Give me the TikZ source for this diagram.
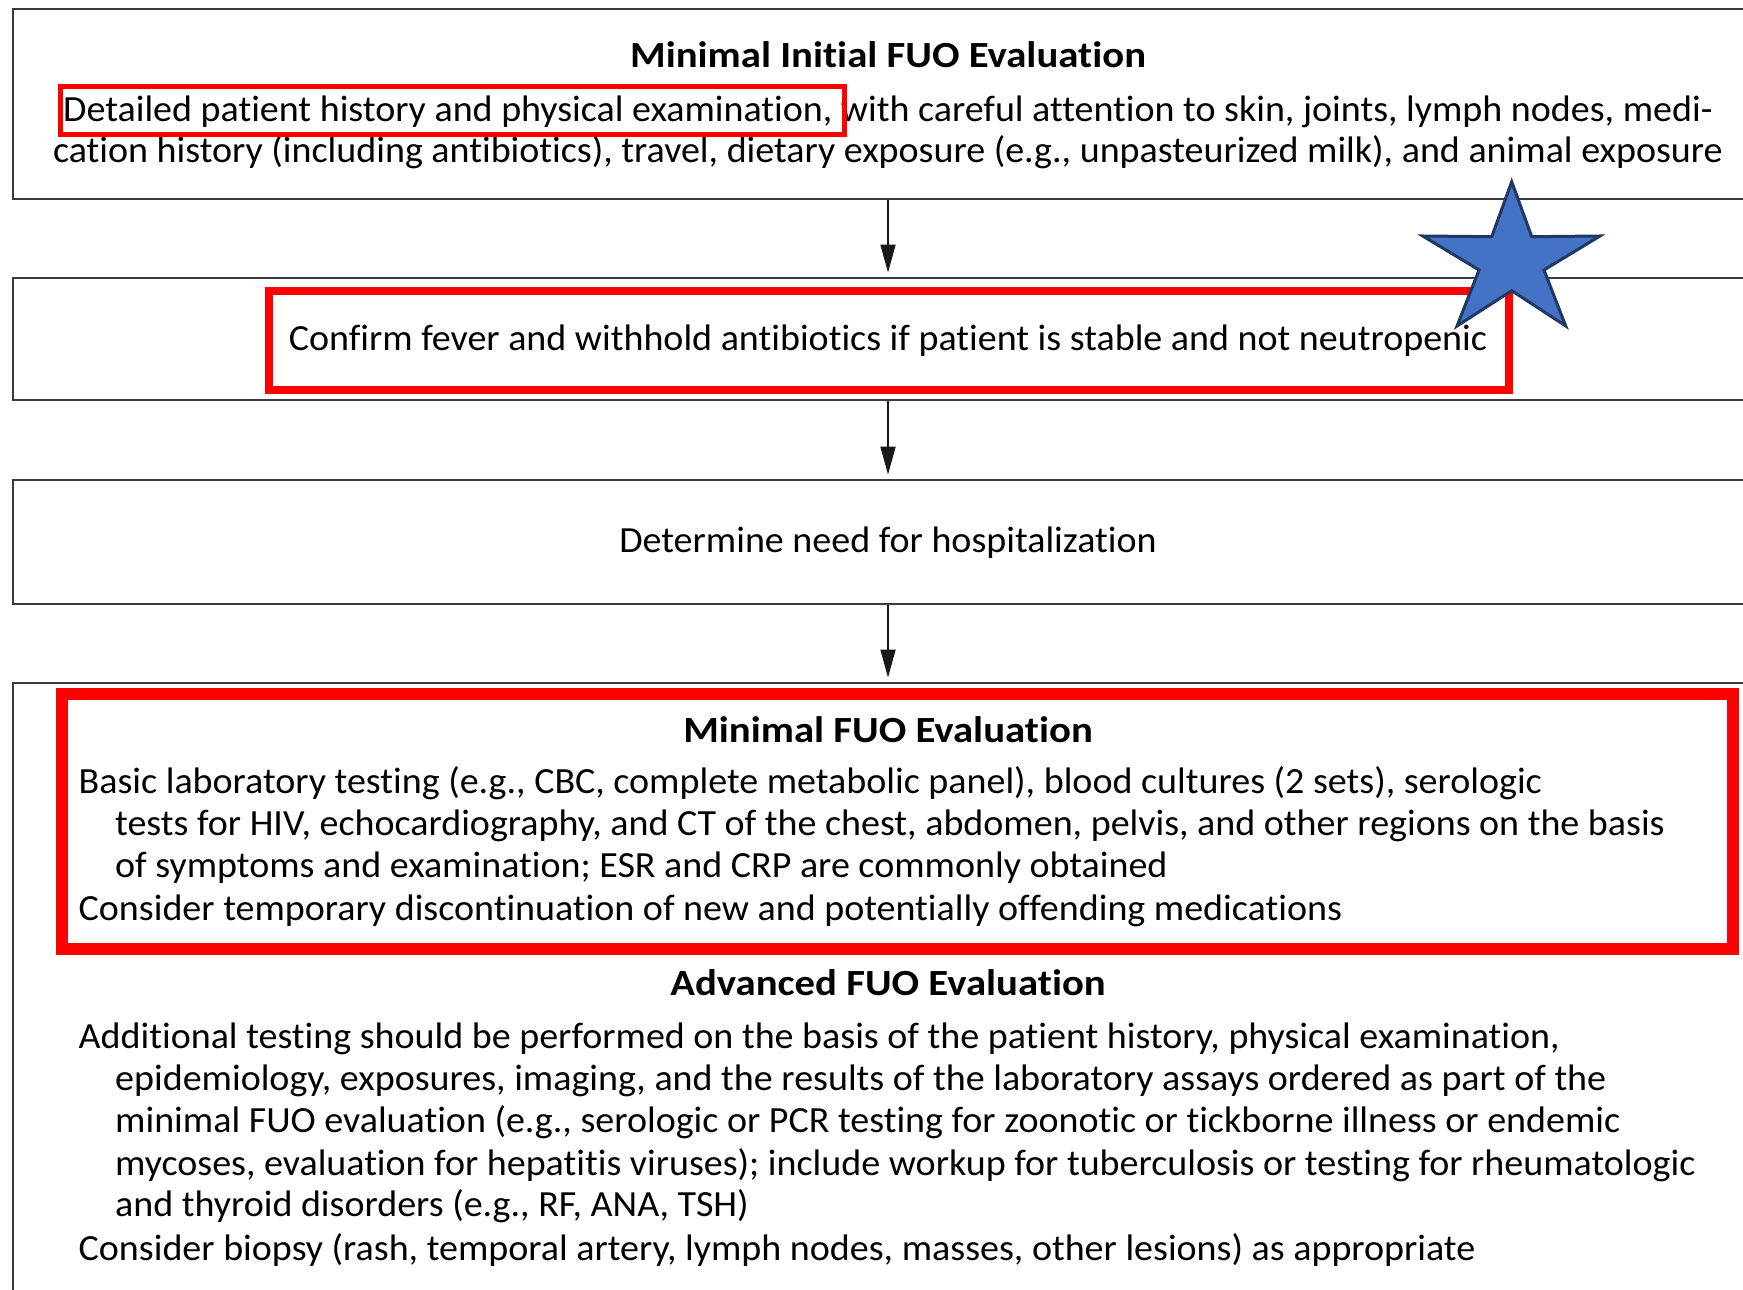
\documentclass[tikz,border=0pt]{standalone}
\usepackage{fontspec}
\setmainfont{Carlito}[Ligatures=NoCommon, FakeStretch=1.03, BoldFeatures={FakeStretch=1.105}]
\usetikzlibrary{
  arrows.meta,
  positioning,
}
\definecolor{boxgray}{HTML}{3C3C3C}
\definecolor{starblue}{HTML}{4472C4}
\definecolor{stardark}{HTML}{1F3864}
\tikzset{
  >={Triangle[length=2.8mm,width=1.5mm]},
  shorten >=0.4mm,
  stage/.style={draw=boxgray, line width=0.28mm, minimum width=175mm, inner sep=0},
  flow/.style={->, line width=0.17mm, draw=black!90},
  hilite/.style={draw=red},
  txt/.style={inner sep=0, anchor=base},
  txtl/.style={inner sep=0, anchor=base west},
}

\begin{document}
\begin{tikzpicture}[x=0.1mm, y=-0.1mm, font=\fontsize{10.5}{12.05}\selectfont]

        \useasboundingbox (0,0) rectangle (1743,1290);
        \clip (0,0) rectangle (1743,1290);

        \node [stage, minimum height=19mm] (initial) at (888,104) {};
        \node [stage, minimum height=12.2mm] (confirm) at (888,339) {};
        \node [stage, minimum height=12.4mm] (hospital) at (888,542) {};
        \node [stage, minimum height=64mm] (workup) at (888,1003) {};

        \draw [flow] (initial) -- (confirm);
        \draw [flow] (confirm) -- (hospital);
        \draw [flow] (hospital) -- (workup);

        \node [txt] (initialtitle) at (888,68) {\bfseries Minimal Initial FUO Evaluation};
        \node [txt] (initialone) at (888,122)
              {Detailed patient history and physical examination, with careful attention to skin, joints, lymph nodes, medi-};
        \node [txt] (initialtwo) at (888,163)
              {cation history (including antibiotics), travel, dietary exposure (e.g., unpasteurized milk), and animal exposure};

        \node [txt] (confirmtext) at (888,351)
              {Confirm fever and withhold antibiotics if patient is stable and not neutropenic};

        \node [txt] (hospitaltext) at (888,552) {Determine need for hospitalization};

        \node [txt] (minimaltitle) at (888,742) {\bfseries Minimal FUO Evaluation};
        \node [txtl] (minimalone) at (78,793)
              {Basic laboratory testing (e.g., CBC, complete metabolic panel), blood cultures (2 sets), serologic};
        \node [txtl] (minimaltwo) at (114.5,835)
              {tests for HIV, echocardiography, and CT of the chest, abdomen, pelvis, and other regions on the basis};
        \node [txtl] (minimalthree) at (114.5,877.7)
              {of symptoms and examination; ESR and CRP are commonly obtained};
        \node [txtl] (minimalfour) at (78,920.7)
              {Consider temporary discontinuation of new and potentially offending medications};

        \node [txt] (advancedtitle) at (888,995) {\bfseries Advanced FUO Evaluation};
        \node [txtl] (advancedone) at (78,1048.3)
              {Additional testing should be performed on the basis of the patient history, physical examination,};
        \node [txtl] (advancedtwo) at (114.5,1090)
              {epidemiology, exposures, imaging, and the results of the laboratory assays ordered as part of the};
        \node [txtl] (advancedthree) at (114.5,1132.7)
              {minimal FUO evaluation (e.g., serologic or PCR testing for zoonotic or tickborne illness or endemic};
        \node [txtl] (advancedfour) at (114.5,1175)
              {mycoses, evaluation for hepatitis viruses); include workup for tuberculosis or testing for rheumatologic};
        \node [txtl] (advancedfive) at (114.5,1216.7)
              {and thyroid disorders (e.g., RF, ANA, TSH)};
        \node [txtl] (advancedsix) at (78,1260)
              {Consider biopsy (rash, temporal artery, lymph nodes, masses, other lesions) as appropriate};

        \draw [hilite, line width=0.5mm] (60,86.5) rectangle (844,135);
        \draw [hilite, line width=0.8mm] (269,291) rectangle (1509,390);
        \draw [hilite, line width=1.2mm] (62,694) rectangle (1733,949);

        \filldraw [fill=starblue, draw=stardark, line width=0.3mm]
              (1511.7,181.7) -- (1531.7,236.7) -- (1600,236) -- (1544,270)
              -- (1565.7,326) -- (1511.7,290.7) -- (1457,326) -- (1479,270)
              -- (1422.7,236) -- (1491.7,236.7) -- cycle;
      \end{tikzpicture}
\end{document}
